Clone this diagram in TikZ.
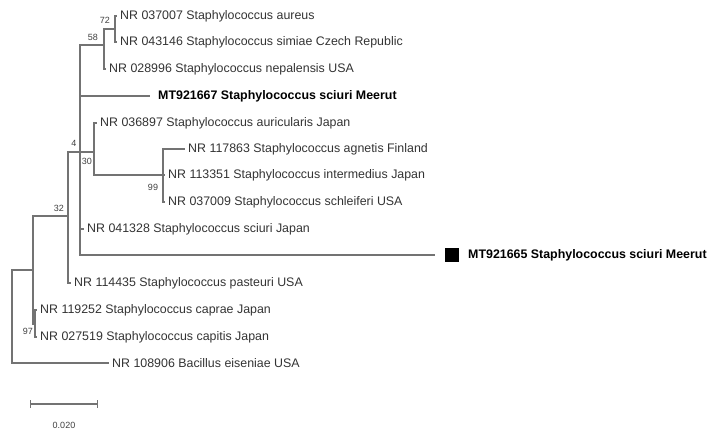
\documentclass[tikz,border=0pt]{standalone}
\usepackage{fontspec}
\setmainfont{Liberation Sans}
\begin{document}
\begin{tikzpicture}[x=1pt,y=-1pt,
  branch/.style={draw=black!55, line width=1.1pt},
  taxon/.style={anchor=west, inner xsep=3pt, inner ysep=0pt, text=black!80, font=\fontsize{12.4}{14}\selectfont},
  query/.style={anchor=west, inner xsep=8pt, inner ysep=0pt, font=\fontsize{12.4}{14}\selectfont\bfseries},
  sqbox/.style={fill=black, minimum size=14pt, inner sep=0pt},
  boot/.style={inner sep=0pt, text=black!75, font=\fontsize{9}{10}\selectfont}]
\useasboundingbox (0,0) rectangle (709,435);

\coordinate (root) at (12,316);
\coordinate (nX) at (33,270);
\coordinate (n97) at (35,324);
\coordinate (n32) at (68,216);
\coordinate (n4) at (80,152);
\coordinate (n58) at (104,45);
\coordinate (n72) at (115,29);
\coordinate (n30) at (94,152);
\coordinate (n99) at (163,175);

\node[taxon] (aur) at (117,16) {NR 037007 Staphylococcus aureus};
\node[taxon] (sim) at (117,42) {NR 043146 Staphylococcus simiae Czech Republic};
\node[taxon] (nep) at (106,69) {NR 028996 Staphylococcus nepalensis USA};
\node[query] (m67) at (150,96) {MT921667 Staphylococcus sciuri Meerut};
\node[taxon] (aurc) at (97,123) {NR 036897 Staphylococcus auricularis Japan};
\node[taxon] (agn) at (185,149) {NR 117863 Staphylococcus agnetis Finland};
\node[taxon] (int) at (165,175) {NR 113351 Staphylococcus intermedius Japan};
\node[taxon] (sch) at (165,202) {NR 037009 Staphylococcus schleiferi USA};
\node[taxon] (sciJ) at (84,229) {NR 041328 Staphylococcus sciuri Japan};
\coordinate (m65end) at (435,255);
\node[sqbox] (sq) at (452,255) {};
\node[query, inner xsep=0pt] (m65) at (468,255) {MT921665 Staphylococcus sciuri Meerut};
\node[taxon] (pas) at (71,283) {NR 114435 Staphylococcus pasteuri USA};
\node[taxon] (cap) at (37,310) {NR 119252 Staphylococcus caprae Japan};
\node[taxon] (capi) at (37,337) {NR 027519 Staphylococcus capitis Japan};
\node[taxon] (bac) at (109,363) {NR 108906 Bacillus eiseniae USA};

\node[boot] (b72) at (105,20) {72};
\node[boot] (b58) at (93,37) {58};
\node[boot] (b4) at (74,143) {4};
\node[boot] (b30) at (87,161) {30};
\node[boot] (b32) at (59,208) {32};
\node[boot] (b99) at (153,187) {99};
\node[boot] (b97) at (28,331) {97};

\draw[branch] (n72) |- (aur.west);
\draw[branch] (n72) |- (sim.west);
\draw[branch] (n58) |- (n72);
\draw[branch] (n58) |- (nep.west);
\draw[branch] (n4) |- (n58);
\draw[branch] (n4) |- (m67.west);
\draw[branch] (n4) |- (n30);
\draw[branch] (n4) |- (sciJ.west);
\draw[branch] (n4) |- (m65end);
\draw[branch] (n30) |- (aurc.west);
\draw[branch] (n30) |- (n99);
\draw[branch] (n99) |- (agn.west);
\draw[branch] (n99) |- (int.west);
\draw[branch] (n99) |- (sch.west);
\draw[branch] (n32) |- (n4);
\draw[branch] (n32) |- (pas.west);
\draw[branch] (nX) |- (n32);
\draw[branch] (nX) |- (n97);
\draw[branch] (n97) |- (cap.west);
\draw[branch] (n97) |- (capi.west);
\draw[branch] (root) |- (nX);
\draw[branch] (root) |- (bac.west);

\coordinate (sb1) at (30,404);
\coordinate (sb2) at (98,404);
\draw[branch, |-|] (sb1) -- (sb2);
\node[boot] (sbl) at (64,425) {0.020};
\end{tikzpicture}
\end{document}
